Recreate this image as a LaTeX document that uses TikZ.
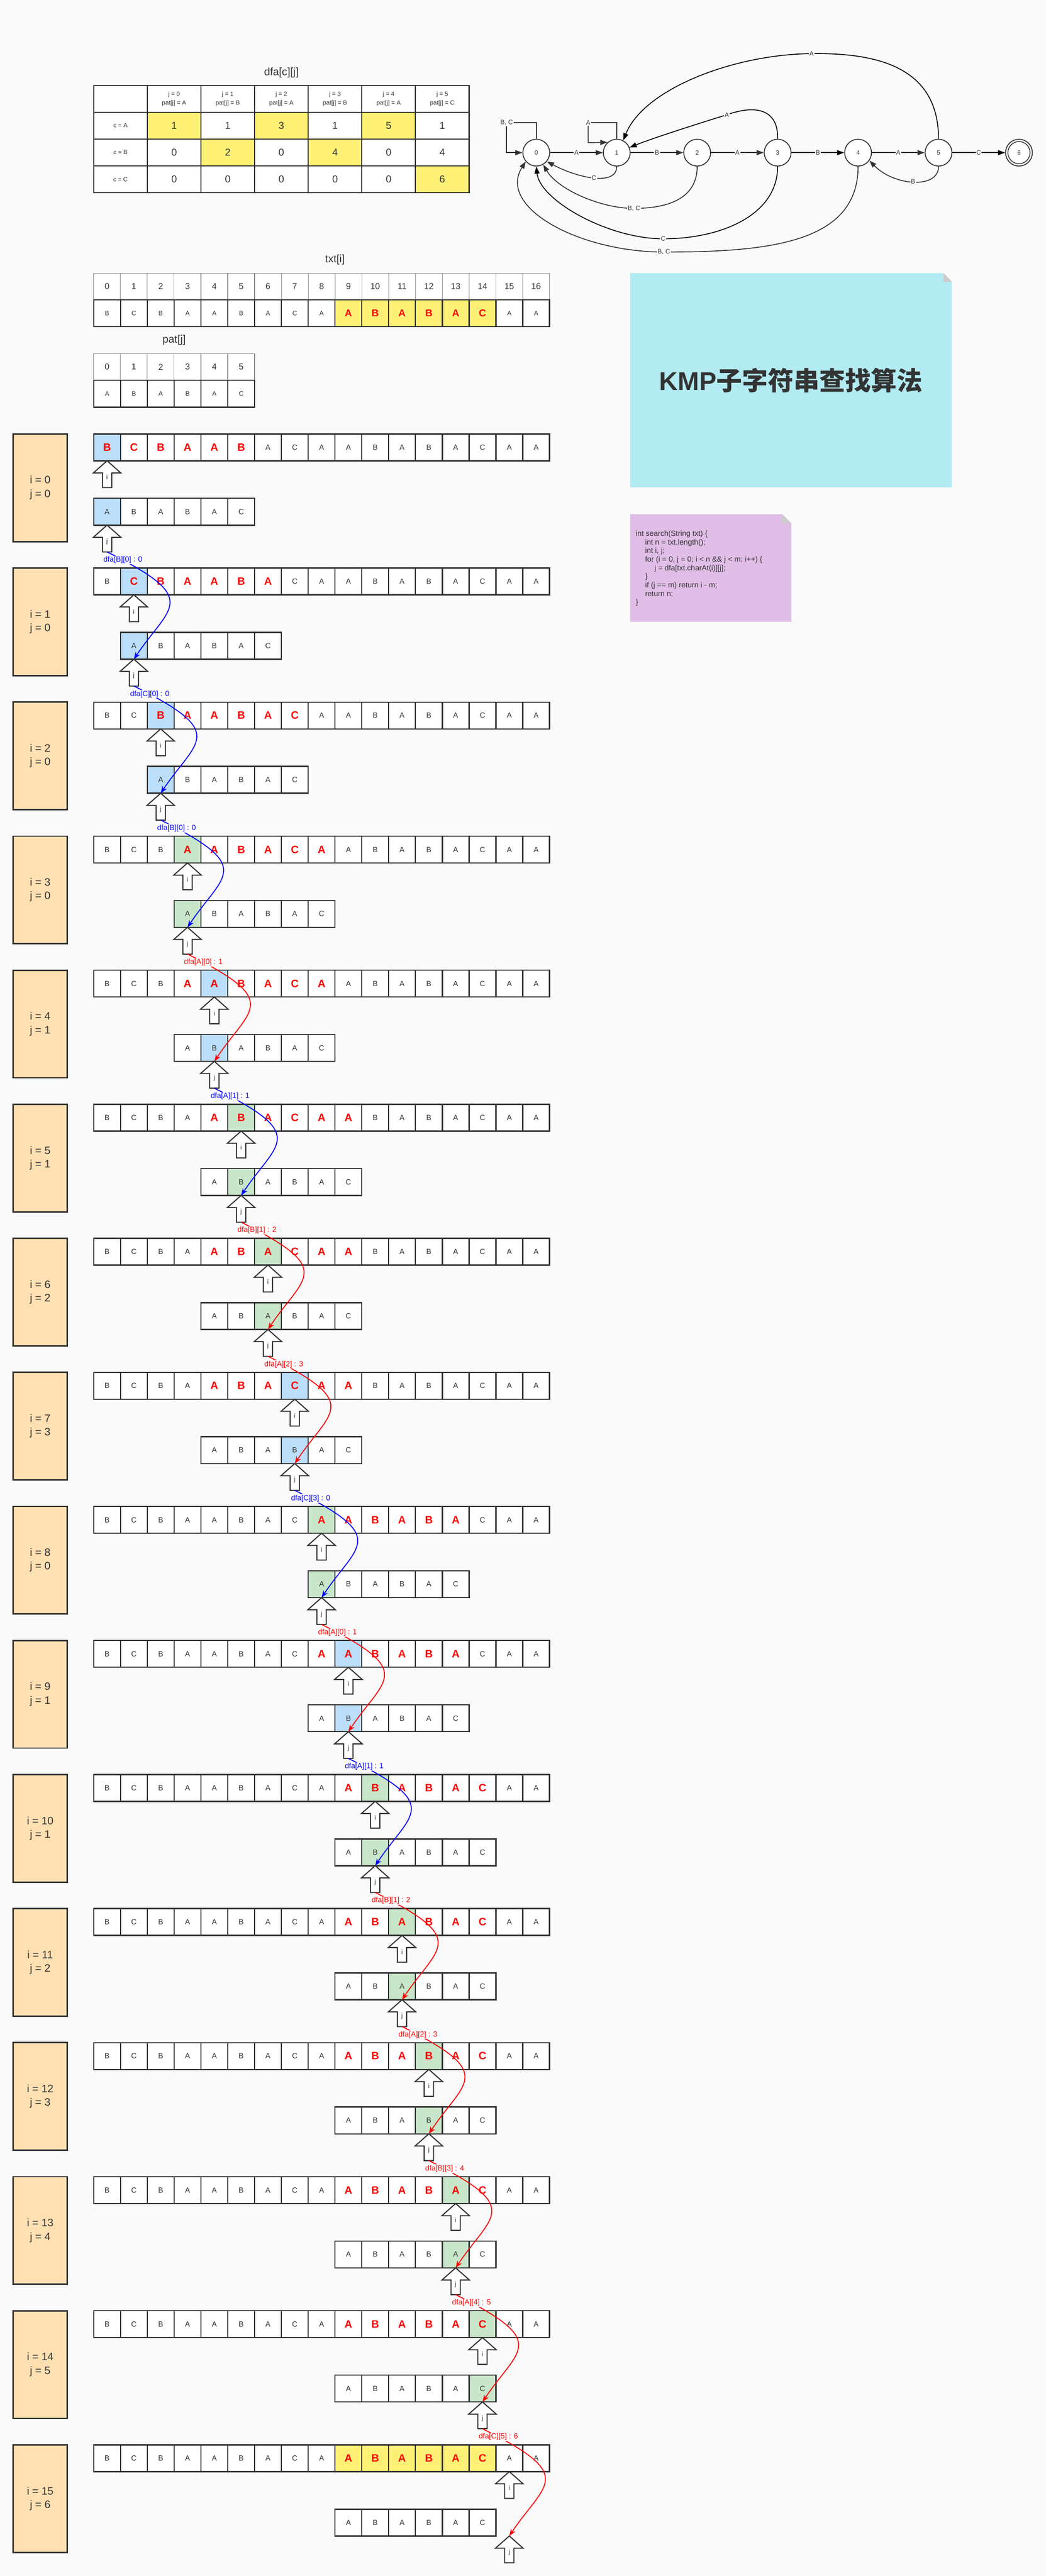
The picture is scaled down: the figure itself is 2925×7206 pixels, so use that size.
\documentclass[tikz,border=0pt]{standalone}
\usepackage{fontspec}
\setmainfont{Liberation Sans}
\newfontfamily\cjkfont{Noto Sans CJK SC}
\usetikzlibrary{arrows.meta}
\definecolor{bgc}{HTML}{FAFAFA}
\definecolor{ink}{HTML}{333333}
\definecolor{hlb}{HTML}{BBDEFB}
\definecolor{hlg}{HTML}{C8E6C9}
\definecolor{yel}{HTML}{FFF176}
\definecolor{orng}{HTML}{FFE0B2}
\definecolor{cyanb}{HTML}{B2EBF2}
\definecolor{pinkb}{HTML}{E1BEE7}
\definecolor{foldg}{HTML}{CCCCCC}
\definecolor{rd}{HTML}{FF0000}
\definecolor{bl}{HTML}{0000FF}
\definecolor{idxg}{HTML}{8A8A8A}
\tikzset{
  cell/.style={draw=ink, line width=1.75pt, minimum width=37.5pt, minimum height=37.5pt, inner sep=0pt, fill=white, text=ink, font=\fontsize{10.5}{12}\selectfont},
  redl/.style={text=rd, font=\fontsize{15}{18}\selectfont\bfseries},
  tcell/.style={cell, font=\fontsize{9}{11}\selectfont},
  tred/.style={text=rd, font=\fontsize{14}{16}\selectfont\bfseries},
  idx/.style={draw=idxg, line width=0.8pt, minimum width=37.5pt, minimum height=37.5pt, inner sep=0pt, fill=white, text=ink, font=\fontsize{12}{14}\selectfont},
  dcell/.style={draw=ink, line width=1.75pt, minimum width=75pt, minimum height=37.5pt, inner sep=0pt, fill=white, text=ink, align=center},
  ttl/.style={text=ink, font=\fontsize{15}{17}\selectfont, inner sep=0pt},
  stepbox/.style={draw=ink, line width=2pt, fill=orng, minimum width=75.5pt, minimum height=150.5pt, inner sep=0pt, align=center, text=ink, font=\fontsize{15}{19}\selectfont},
  uparr/.style={draw=ink, line width=1.5pt, fill=white, line join=miter},
  arrlbl/.style={text=ink, font=\fontsize{9}{10}\selectfont, inner sep=0pt},
  kcurve/.style={line width=1.3pt, -{Stealth[length=10pt,width=7.5pt]}},
  clbl/.style={fill=white, inner sep=1pt, font=\fontsize{10.4}{12}\selectfont},
  st/.style={circle, draw=ink, line width=1.25pt, fill=white, minimum size=37.5pt, inner sep=0pt, text=ink, font=\fontsize{8.5}{10}\selectfont},
  dedge/.style={draw=ink, line width=1.2pt, -{Triangle[length=10pt,width=7pt]}},
  kedge/.style={dedge, draw=black},
  elbl/.style={fill=white, inner sep=1pt, text=ink, font=\fontsize{9}{10}\selectfont},
}
\newcommand\UpArr[4]{%
  \draw[uparr] (#1,#2) -- ++(38.5,34) -- ++(-25.5,0) -- ++(0,41) -- ++(-26,0) -- ++(0,-41) -- ++(-25.5,0) -- cycle;
  \node[arrlbl] (#4) at (#1,#2+46) {#3};
}
\begin{document}
\begin{tikzpicture}[x=0.5pt,y=-0.5pt]
\useasboundingbox (0,0) rectangle (2925,7206);
\fill[bgc] (0,0) rectangle (2925,7206);

% ---------- dfa table ----------
\node[ttl] (dfattl) at (787,203) {dfa[c][j]};
\node[dcell] (dh) at (337,276.5) {};
\foreach \cc/\pj in {0/A,1/B,2/A,3/B,4/A,5/C}{
  \node[dcell, font=\fontsize{8.5}{12}\selectfont] (dh\cc) at (487+150*\cc,276.5) {j = \cc\\pat[j] = \pj};
}
\foreach \rr/\ch in {0/A,1/B,2/C}{
  \node[dcell, font=\fontsize{8.5}{12}\selectfont] (dr\rr) at (337,351.5+75*\rr) {c = \ch};
}
\foreach \rr/\cc/\vv/\yy in {0/0/1/1,0/1/1/0,0/2/3/1,0/3/1/0,0/4/5/1,0/5/1/0,1/0/0/0,1/1/2/1,1/2/0/0,1/3/4/1,1/4/0/0,1/5/4/0,2/0/0/0,2/1/0/0,2/2/0/0,2/3/0/0,2/4/0/0,2/5/6/1}{
  \tikzset{dfill/.style={fill=white}}
  \ifnum\yy=1 \tikzset{dfill/.style={fill=yel}}\fi
  \node[dcell, dfill, font=\fontsize{14}{16}\selectfont] (dv\rr-\cc) at (487+150*\cc,351.5+75*\rr) {\vv};
}

% ---------- txt / pat tables ----------
\node[ttl] (txtttl) at (937,727) {txt[i]};
\foreach \cc/\LL in {0/B,1/C,2/B,3/A,4/A,5/B,6/A,7/C,8/A,9/A,10/B,11/A,12/B,13/A,14/C,15/A,16/A}{
  \node[idx] (ti\cc) at (299.5+75*\cc,801.5) {\cc};
}
\foreach \cc/\LL in {0/B,1/C,2/B,3/A,4/A,5/B,6/A,7/C,8/A,9/A,10/B,11/A,12/B,13/A,14/C,15/A,16/A}{
  \tikzset{cfill/.style={fill=white},ctext/.style={}}
  \ifnum\cc>8 \ifnum\cc<15 \tikzset{cfill/.style={fill=yel},ctext/.style={tred}}\fi\fi
  \node[tcell, cfill, ctext] (td\cc) at (299.5+75*\cc,876.5) {\LL};
}
\node[ttl] (patttl) at (487,952) {pat[j]};
\foreach \cc/\LL in {0/A,1/B,2/A,3/B,4/A,5/C}{
  \node[idx] (pi\cc) at (299.5+75*\cc,1026.5) {\cc};
}
\foreach \cc/\LL in {0/A,1/B,2/A,3/B,4/A,5/C}{
  \node[tcell] (pd\cc) at (299.5+75*\cc,1101.5) {\LL};
}

% ---------- DFA graph ----------
\node[st] (n0) at (1500,427) {0};
\node[st] (n1) at (1725,427) {1};
\node[st] (n2) at (1950,427) {2};
\node[st] (n3) at (2175,427) {3};
\node[st] (n4) at (2400,427) {4};
\node[st] (n5) at (2625,427) {5};
\node[st] (n6) at (2850,427) {6};
\draw[draw=ink, line width=1.1pt] (n6.center) circle[radius=15.5pt];

\draw[dedge] (n0) -- node[elbl]{A} (n1);
\draw[dedge] (n1) -- node[elbl]{B} (n2);
\draw[dedge] (n2) -- node[elbl]{A} (n3);
\draw[kedge] (n3) -- node[elbl]{B} (n4);
\draw[dedge] (n4) -- node[elbl]{A} (n5);
\draw[kedge] (n5) -- node[elbl]{C} (n6);

\draw[dedge] (n0.north) -- (1500,343) -- (1417,343) node[elbl]{B, C} -- (1417,427) -- (n0.west);
\draw[dedge] (n1.north) -- (1725,343) -- (1645,343) node[elbl]{A} -- (1645,399) -- (n1.132);

\draw[dedge] (n1.south) .. controls (1725,520) and (1620,500) .. (n0.-40) node[elbl,pos=0.5]{C};
\draw[dedge] (n2.south) .. controls (1950,560) and (1860,583) .. (1773,583) node[elbl]{B, C} .. controls (1680,583) and (1560,530) .. (n0.-60);
\draw[kedge] (n3.south) .. controls (2175,600) and (2020,668) .. (1855,668) node[elbl]{C} .. controls (1700,668) and (1510,560) .. (n0.south);
\draw[dedge] (n4.south) .. controls (2400,680) and (2150,705) .. (1857,705) node[elbl]{B, C} .. controls (1620,705) and (1390,580) .. (n0.-140);
\draw[kedge] (n3.north) .. controls (2177,310) and (2120,290) .. (2033,321) node[elbl]{A} .. controls (1940,350) and (1830,385) .. (n1.22);
\draw[kedge] (n5.north) .. controls (2625,180) and (2440,148) .. (2270,150) node[elbl]{A} .. controls (2050,152) and (1800,250) .. (n1.62);
\draw[dedge] (n5.south) .. controls (2625,530) and (2500,520) .. (n4.-35) node[elbl,pos=0.5]{B};

% ---------- notes ----------
\node[fill=cyanb, minimum width=450pt, minimum height=300pt, inner sep=0pt] (kmpbox) at (2212,1064) {};
\fill[bgc] (2639,763) -- (2663,763) -- (2663,788) -- cycle;
\fill[foldg] (2639,764) -- (2639,788) -- (2662,788) -- cycle;
\node[text=ink, font=\fontsize{36}{40}\selectfont\bfseries, inner sep=0pt] (kmpttl) at (kmpbox.center) {KMP{\cjkfont\bfseries 子字符串查找算法}};

\node[fill=pinkb, minimum width=225.5pt, minimum height=150pt, inner sep=0pt] (codebox) at (1987.5,1589) {};
\fill[bgc] (2188,1438) -- (2214,1438) -- (2214,1464) -- cycle;
\fill[foldg] (2188,1439) -- (2188,1464) -- (2213,1464) -- cycle;
\node[anchor=north west, align=left, inner sep=0pt, text=ink, font=\fontsize{10.5}{12}\selectfont] (code) at (1778,1484) {%
int search(String txt) \{\\
\hspace*{13pt}int n = txt.length();\\
\hspace*{13pt}int i, j;\\
\hspace*{13pt}for (i = 0, j = 0; i < n \&\& j < m; i++) \{\\
\hspace*{26pt}j = dfa[txt.charAt(i)][j];\\
\hspace*{13pt}\}\\
\hspace*{13pt}if (j == m) return i - m;\\
\hspace*{13pt}return n;\\
\}};

% ---------- steps ----------
\foreach \kk/\jj/\mm in {0/0/1,1/0/1,2/0/1,3/0/2,4/1/1,5/1/2,6/2/2,7/3/1,8/0/2,9/1/1,10/1/2,11/2/2,12/3/2,13/4/2,14/5/2,15/6/3}{
  \pgfmathtruncatemacro\Ty{1214+375*\kk}
  \pgfmathtruncatemacro\sw{\kk-\jj}
  \node[stepbox] (sb\kk) at (112.5,\Ty+150.5) {i = \kk\\j = \jj};
  \foreach \cc/\LL in {0/B,1/C,2/B,3/A,4/A,5/B,6/A,7/C,8/A,9/A,10/B,11/A,12/B,13/A,14/C,15/A,16/A}{
    \pgfmathtruncatemacro\inw{and(\cc>=\sw,\cc<=\sw+5)}
    \tikzset{cfill/.style={fill=white},ctext/.style={}}
    \ifnum\inw=1 \tikzset{ctext/.style={redl}}\fi
    \ifnum\mm=3
      \ifnum\inw=1 \tikzset{cfill/.style={fill=yel}}\fi
    \else
      \ifnum\cc=\kk
        \ifnum\mm=1 \tikzset{cfill/.style={fill=hlb}}\else\tikzset{cfill/.style={fill=hlg}}\fi
      \fi
    \fi
    \node[cell, cfill, ctext] (t\kk-\cc) at (299.5+75*\cc,\Ty+37.5) {\LL};
  }
  \foreach \pc/\PL in {0/A,1/B,2/A,3/B,4/A,5/C}{
    \tikzset{pfill/.style={fill=white}}
    \ifnum\mm<3
      \ifnum\pc=\jj
        \ifnum\mm=1 \tikzset{pfill/.style={fill=hlb}}\else\tikzset{pfill/.style={fill=hlg}}\fi
      \fi
    \fi
    \node[cell, pfill] (p\kk-\pc) at (299.5+75*\sw+75*\pc,\Ty+217.5) {\PL};
  }
  \UpArr{299.5+75*\kk}{\Ty+75}{i}{ai\kk}
  \UpArr{299.5+75*\kk}{\Ty+255}{j}{aj\kk}
  \coordinate (jt\kk) at (299.5+75*\kk,\Ty+255);
  \coordinate (jb\kk) at (299.5+75*\kk,\Ty+330);
}

% ---------- transitions ----------
\foreach \kk/\lab/\cl in {0/{dfa[B][0] : 0}/bl,1/{dfa[C][0] : 0}/bl,2/{dfa[B][0] : 0}/bl,3/{dfa[A][0] : 1}/rd,4/{dfa[A][1] : 1}/bl,5/{dfa[B][1] : 2}/rd,6/{dfa[A][2] : 3}/rd,7/{dfa[C][3] : 0}/bl,8/{dfa[A][0] : 1}/rd,9/{dfa[A][1] : 1}/bl,10/{dfa[B][1] : 2}/rd,11/{dfa[A][2] : 3}/rd,12/{dfa[B][3] : 4}/rd,13/{dfa[A][4] : 5}/rd,14/{dfa[C][5] : 6}/rd}{
  \pgfmathtruncatemacro\nk{\kk+1}
  \draw[kcurve, draw=\cl] (jb\kk) .. controls +(267,133) and +(100,-150) .. (jt\nk) node[clbl, text=\cl, pos=0.06] {\lab};
}
\end{tikzpicture}
\end{document}
